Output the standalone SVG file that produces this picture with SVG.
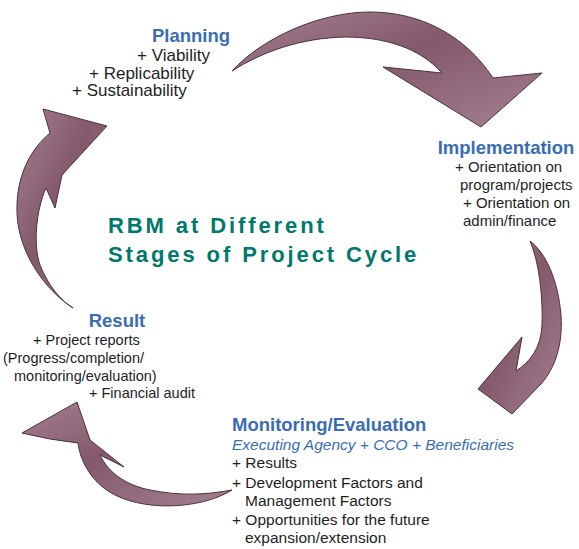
<svg xmlns="http://www.w3.org/2000/svg" width="579" height="549" viewBox="0 0 579 549">
<defs>
<linearGradient id="mauve" x1="0" y1="0" x2="1" y2="1">
<stop offset="0" stop-color="#a48192"/>
<stop offset="0.45" stop-color="#83596b"/>
<stop offset="1" stop-color="#a48192"/>
</linearGradient>
</defs>
<style>
.arrow{fill:url(#mauve);stroke:#4e2f3d;stroke-width:1;stroke-linejoin:miter}
text{font-family:"Liberation Sans",Arial,sans-serif}
.head{fill:#3a6cb4;font-weight:bold;font-size:18.5px}
.body{fill:#1e1e1e;font-size:15px}
.sub{fill:#3a6cb4;font-style:italic;font-size:15.5px}
.title{fill:#00786c;font-weight:bold;font-size:22px;letter-spacing:2.9px}
</style>
<rect width="579" height="549" fill="#ffffff"/>
<g id="connectors">
<path class="arrow" d="M232,71 C262,38 320,12 370,12 C420,12 465,35 493,78 L542,73 L481,127 L383,67 L442,73 C420,48 385,37 345,37 C300,38 262,52 232,71 Z"/>
<path class="arrow" d="M530,241 C546,253 558,280 561,315 C563,345 555,368 541,384 L512,414 L478,389 L522,337 L516,371 C530,362 541,348 542,325 C543,295 539,262 530,241 Z"/>
<path class="arrow" d="M232,490 C200,510 140,512 108,491 C90,479 80,460 78,443 Q50,440 22,433 L77,402 L90,440 L124,467 L100,455 C108,472 125,485 150,490 C180,496 205,495 232,490 Z"/>
<path class="arrow" d="M73,308 C45,290 15,250 17,205 C18,172 32,148 50,133 L43,109 L107,126 L62,175 L55,208 L46,188 C36,210 33,245 40,265 C48,285 60,300 73,308 Z"/>
</g>
<g id="planning">
<text class="head" x="191" y="42" text-anchor="middle">Planning</text>
<text class="body" x="137" y="61" style="font-size:17px">+ Viability</text>
<text class="body" x="89" y="79" style="font-size:17px">+ Replicability</text>
<text class="body" x="72" y="96" style="font-size:17px">+ Sustainability</text>
</g>
<g id="implementation">
<text class="head" x="506" y="154" text-anchor="middle">Implementation</text>
<text class="body" x="455" y="172">+ Orientation on</text>
<text class="body" x="460" y="190">program/projects</text>
<text class="body" x="463" y="208">+ Orientation on</text>
<text class="body" x="463" y="226">admin/finance</text>
</g>
<g id="monitoring">
<text class="head" x="232" y="431">Monitoring/Evaluation</text>
<text class="sub" x="232" y="449.5">Executing Agency + CCO + Beneficiaries</text>
<text class="body" x="232" y="468" style="font-size:15.5px">+ Results</text>
<text class="body" x="232" y="488" style="font-size:15.5px">+ Development Factors and</text>
<text class="body" x="245" y="506" style="font-size:15.5px">Management Factors</text>
<text class="body" x="232" y="525" style="font-size:15.5px">+ Opportunities for the future</text>
<text class="body" x="245" y="543" style="font-size:15.5px">expansion/extension</text>
</g>
<g id="result">
<text class="head" x="117" y="327" text-anchor="middle">Result</text>
<text class="body" x="33" y="345" style="font-size:14.5px">+ Project reports</text>
<text class="body" x="3" y="363" style="font-size:14.5px">(Progress/completion/</text>
<text class="body" x="14" y="381" style="font-size:14.5px">monitoring/evaluation)</text>
<text class="body" x="89" y="398" style="font-size:14.5px">+ Financial audit</text>
</g>
<g id="title">
<text class="title" x="108" y="233">RBM at Different</text>
<text class="title" x="108" y="262">Stages of Project Cycle</text>
</g>
</svg>
